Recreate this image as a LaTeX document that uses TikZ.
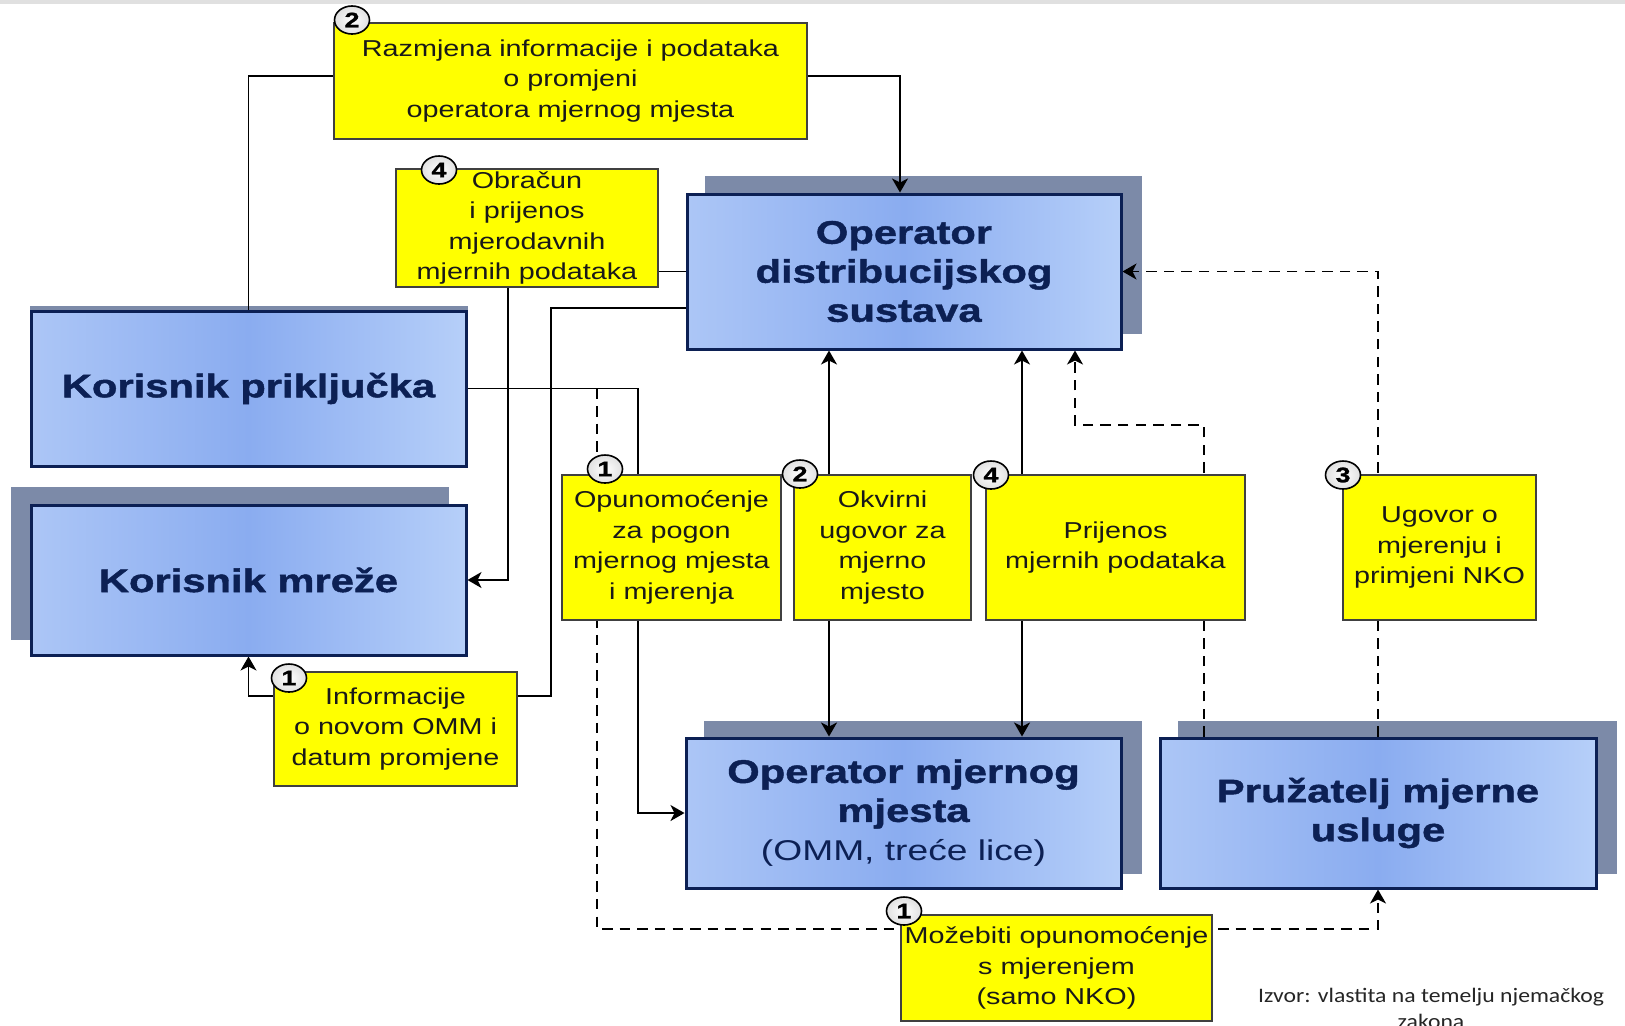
\documentclass[tikz,border=0pt]{standalone}
\usepackage{fontspec}
\usetikzlibrary{arrows.meta,shapes.geometric,calc}
\newfontfamily\boxfont[FakeStretch=1.25]{Liberation Sans}
\newfontfamily\actorfont[FakeStretch=1.3]{Liberation Sans}
\newfontfamily\heavyfont[FakeStretch=1.28,FakeBold=1.4]{Liberation Sans Bold}
\newfontfamily\notefont[FakeStretch=1.15]{Carlito}
\definecolor{navy}{RGB}{12,32,84}
\definecolor{blueA}{RGB}{172,198,246}
\definecolor{blueB}{RGB}{138,172,240}
\definecolor{blueC}{RGB}{182,207,249}
\definecolor{shadowc}{RGB}{124,138,168}
\definecolor{yellowc}{RGB}{255,255,0}
\pgfdeclarelayer{shade}
\pgfdeclarelayer{links}
\pgfsetlayers{shade,links,main}
\begin{document}
\begin{tikzpicture}[x=0.5pt,y=-0.5pt,
  actor/.style={draw=navy, line width=1.5pt, left color=blueA, right color=blueC,
    middle color=blueB, text=navy, align=center, inner sep=0pt,
    font=\heavyfont\fontsize{16.3}{19.5}\selectfont},
  note/.style={draw=black!75, line width=0.6pt, fill=yellowc, text=black!90,
    align=center, inner sep=0pt, font=\boxfont\fontsize{11.5}{15.3}\selectfont},
  badge/.style={ellipse, draw=black, line width=0.8pt, inner color=white,
    outer color=black!12, minimum width=17.5pt, minimum height=14pt, inner sep=0pt,
    font=\heavyfont\fontsize{10.5}{11}\selectfont},
  link/.style={draw=black, line width=0.8pt},
  dashlink/.style={draw=black, line width=0.8pt, dash pattern=on 5.2pt off 3.6pt},
  arr/.style={-{Stealth[length=7pt,width=8pt,inset=2pt]}}
]
\useasboundingbox (0,0) rectangle (1625,1025);
\begin{pgfonlayer}{shade}
  \fill[white] (0,0) rectangle (1625,1025);
  \fill[black!12] (0,0) rectangle (1625,4);
\end{pgfonlayer}

% main actors
\node[actor, minimum width=217pt, minimum height=77.5pt] (ods) at (904,271.5)
  {Operator\\distribucijskog\\sustava};
\node[actor, minimum width=217.5pt, minimum height=77.5pt] (kp) at (248.5,388.5)
  {Korisnik priključka};
\node[actor, minimum width=217.5pt, minimum height=75pt] (km) at (248.5,580)
  {Korisnik mreže};
\node[actor, minimum width=217.5pt, minimum height=75pt] (omm) at (903.5,813)
  {Operator mjernog\\mjesta\\{\actorfont\fontsize{14.3}{19.5}\selectfont(OMM, treće lice)}};
\node[actor, minimum width=218pt, minimum height=75pt] (pru) at (1378,813)
  {Pružatelj mjerne\\usluge};

% drop shadows behind the actors
\begin{pgfonlayer}{shade}
  \fill[shadowc] ($(ods.south west)+(19,-17)$) rectangle ($(ods.north east)+(19,-17)$);
  \fill[shadowc] ($(kp.south west)+(0,-4)$) rectangle ($(kp.north east)+(0,-4)$);
  \fill[shadowc] ($(km.south west)+(-19,-17)$) rectangle ($(km.north east)+(-19,-17)$);
  \fill[shadowc] ($(omm.south west)+(19,-16)$) rectangle ($(omm.north east)+(19,-16)$);
  \fill[shadowc] ($(pru.south west)+(19,-16)$) rectangle ($(pru.north east)+(19,-16)$);
\end{pgfonlayer}

% information flows
\node[note, minimum width=236.5pt, minimum height=58pt] (raz) at (570.5,81)
  {Razmjena informacije i podataka\\o promjeni\\operatora mjernog mjesta};
\node[note, minimum width=131pt, minimum height=59pt] (obr) at (527,228)
  {Obračun\\i prijenos\\mjerodavnih\\mjernih podataka};
\node[note, minimum width=109.5pt, minimum height=72.5pt] (opu) at (671.5,547.5)
  {Opunomoćenje\\za pogon\\mjernog mjesta\\i mjerenja};
\node[note, minimum width=88.5pt, minimum height=72.5pt] (okv) at (882.5,547.5)
  {Okvirni\\ugovor za\\mjerno\\mjesto};
\node[note, minimum width=129.5pt, minimum height=72.5pt] (pri) at (1115.5,547.5)
  {Prijenos\\mjernih podataka};
\node[note, minimum width=96.5pt, minimum height=72.5pt] (ugo) at (1439.5,547.5)
  {Ugovor o\\mjerenju i\\primjeni NKO};
\node[note, minimum width=121.5pt, minimum height=57pt] (inf) at (395.5,729)
  {Informacije\\o novom OMM i\\datum promjene};
\node[note, minimum width=155.5pt, minimum height=53pt] (moz) at (1056.5,968)
  {Možebiti opunomoćenje\\s mjerenjem\\(samo NKO)};

% step numbers
\node[badge] (b1) at (352,20) {2};
\node[badge] (b2) at (439,170) {4};
\node[badge] (b3) at (605,469) {1};
\node[badge] (b4) at (800,474) {2};
\node[badge] (b5) at (991,475) {4};
\node[badge] (b6) at (1343,475) {3};
\node[badge] (b7) at (289,678) {1};
\node[badge] (b8) at (904,911) {1};

% source line
\node[font=\notefont\fontsize{10.3}{13}\selectfont, text=black!85, align=center]
  (src) at (1431,1008) {Izvor: vlastita na temelju njemačkog\\zakona};

% bend points
\coordinate (c1) at (551,696);
\coordinate (c2) at (597,929);
\coordinate (c3) at (1204,425);

\begin{pgfonlayer}{links}
  \draw[link] (kp.north) |- ([yshift=2.5pt]raz.west);
  \draw[link,arr] ([yshift=2.5pt]raz.east) -| ([xshift=-2pt]ods.north);
  \draw[link] (ods.west) -- (ods.west -| obr.east);
  \draw[link,arr] ([xshift=-9.5pt]obr.south) |- (km.east);
  \draw[link] ([yshift=-18.25pt]ods.west) -| (c1) -- (c1 -| inf.east);
  \draw[link,arr] (c1 -| inf.west) -| (km.south);
  \draw[link] (kp.east) -| ([xshift=-16.75pt]opu.north);
  \draw[link,arr] ([xshift=-16.75pt]opu.south) |- (omm.west);
  \draw[dashlink,arr] (c2 |- kp.east) -- (c2) -| (pru.south);
  \draw[link,arr] ([xshift=-26.75pt]okv.north) -- ([xshift=-26.75pt]okv.north |- ods.south);
  \draw[link,arr] ([xshift=-26.75pt]okv.south) -- ([xshift=-26.75pt]okv.south |- omm.north);
  \draw[link,arr] ([xshift=-46.75pt]pri.north) -- ([xshift=-46.75pt]pri.north |- ods.south);
  \draw[link,arr] ([xshift=-46.75pt]pri.south) -- ([xshift=-46.75pt]pri.south |- omm.north);
  \draw[dashlink,arr] (c3 |- pru.north) -- (c3) -| ([xshift=85.5pt]ods.south);
  \draw[dashlink,arr] (pru.north) -- (pru.north |- ods.east) -- (ods.east);
\end{pgfonlayer}
\end{tikzpicture}
\end{document}
